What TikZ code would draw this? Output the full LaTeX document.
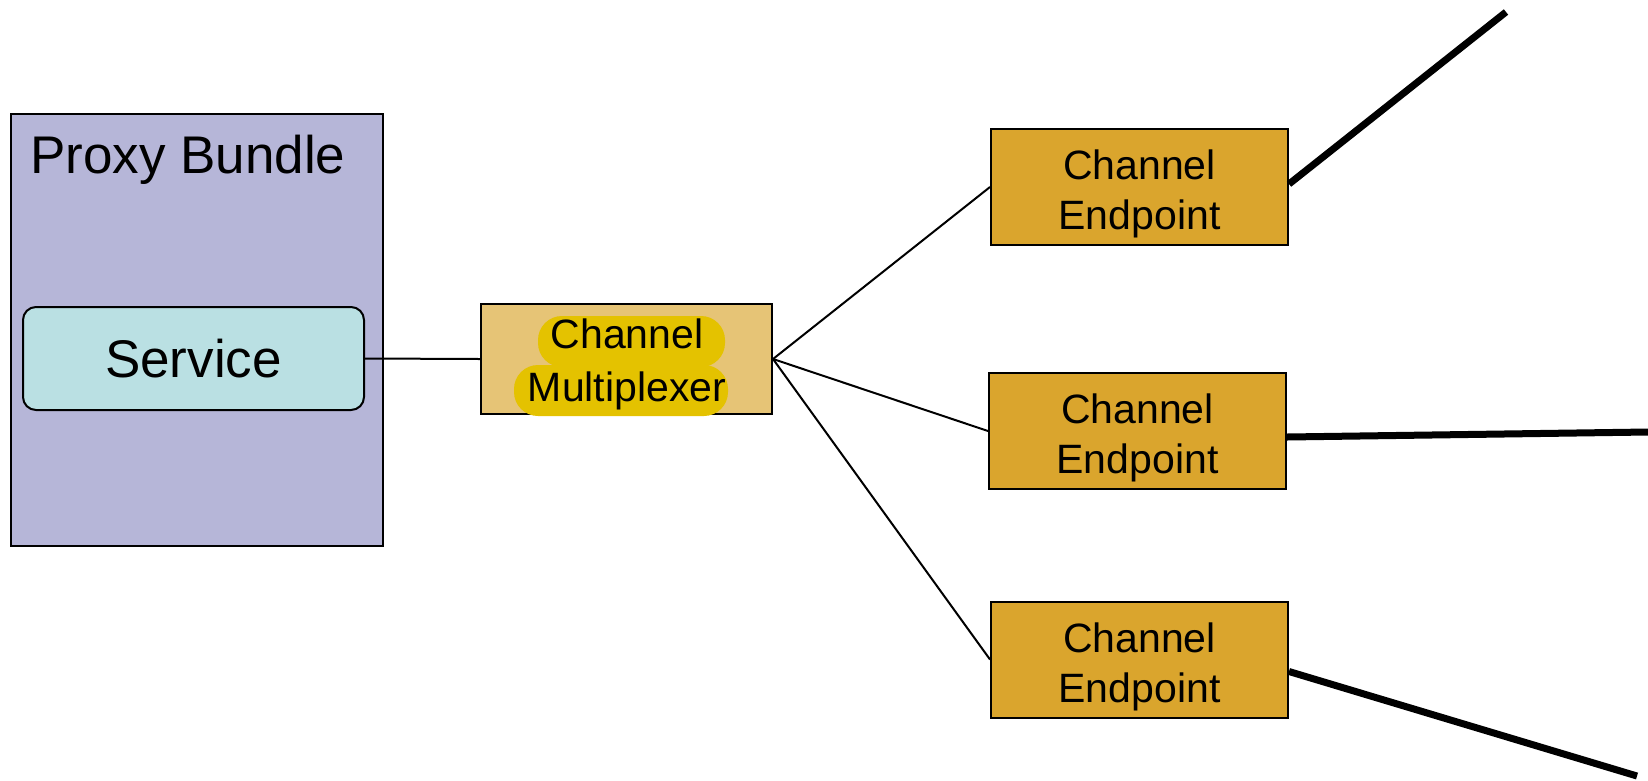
\documentclass[tikz,border=0pt]{standalone}
\usepackage{fontspec}
\setmainfont{Liberation Sans}
\definecolor{bundlefill}{RGB}{182,182,216}
\definecolor{servicefill}{RGB}{186,224,227}
\definecolor{muxfill}{RGB}{230,196,118}
\definecolor{hlfill}{RGB}{228,194,0}
\definecolor{epfill}{RGB}{218,165,45}
\tikzset{
  box/.style={draw=black, line width=2pt, inner sep=0pt},
  bundle/.style={box, fill=bundlefill, minimum width=372pt, minimum height=432pt},
  service/.style={box, fill=servicefill, rounded corners=13pt, minimum width=341pt, minimum height=103pt,
    font=\fontsize{53}{60}\selectfont},
  muxbox/.style={box, fill=muxfill, minimum width=291pt, minimum height=110pt},
  endpoint/.style={box, fill=epfill, minimum width=297pt, minimum height=116pt},
  boxtext/.style={align=center, inner sep=0pt, font=\fontsize{41}{50}\selectfont},
  hl/.style={fill=hlfill, rounded corners=24pt},
  link/.style={draw=black, line width=2pt},
  wire/.style={draw=black, line width=7pt}
}
\begin{document}
\begin{tikzpicture}[x=1pt, y=-1pt]
\useasboundingbox (0,0) rectangle (1648,780);
% proxy bundle with its service
\node[bundle] (bundle) at (197,330) {};
\node[anchor=base west, inner sep=0pt, font=\fontsize{53}{60}\selectfont] (bundlelabel) at (30,173) {Proxy Bundle};
\node[service] (service) at (193.5,358.5) {Service};
% channel multiplexer with highlighted text
\node[muxbox] (mux) at (626.5,359) {};
\fill[hl] (538,316) rectangle (725,367);
\fill[hl] (514,365) rectangle (728,416);
\node[boxtext, font=\fontsize{41}{53}\selectfont] (muxlabel) at (627,364) {Channel\\Multiplexer};
% channel endpoints
\node[endpoint] (ep1) at (1139.5,187) {};
\node[endpoint] (ep2) at (1137.5,431) {};
\node[endpoint] (ep3) at (1139.5,659.5) {};
\node[boxtext] (ep1label) at ([yshift=-7pt]ep1.center) {Channel\\Endpoint};
\node[boxtext] (ep2label) at ([yshift=-7pt]ep2.center) {Channel\\Endpoint};
\node[boxtext] (ep3label) at ([yshift=-7pt]ep3.center) {Channel\\Endpoint};
% outgoing wires
\coordinate (out1) at (1506,12);
\coordinate (out2) at (1648,432);
\coordinate (out3) at (1637,776);
% connectors
\draw[link] (service.east) -- (mux.west);
\draw[link] (mux.east) -- (ep1.west);
\draw[link] (mux.east) -- (ep2.west);
\draw[link] (mux.east) -- (ep3.west);
\draw[wire] ([yshift=3pt]ep1.east) -- (out1);
\draw[wire] ([yshift=-6pt]ep2.east) -- (out2);
\draw[wire] ([yshift=-12pt]ep3.east) -- (out3);
\end{tikzpicture}
\end{document}
